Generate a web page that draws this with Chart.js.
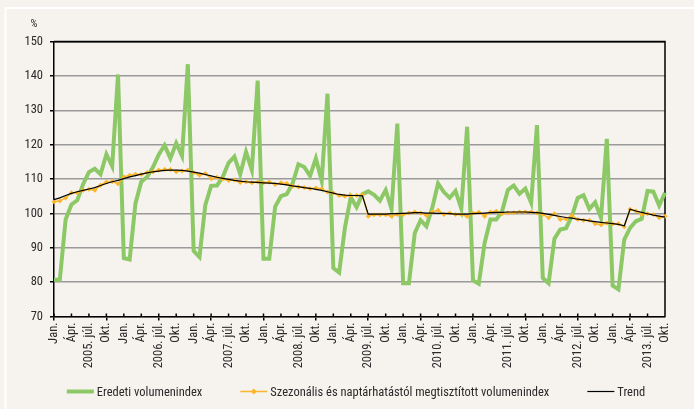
<!DOCTYPE html>
<html>
<head>
<meta charset="utf-8">
<script src="https://cdn.jsdelivr.net/npm/chart.js@4.4.1/dist/chart.umd.min.js"></script>
<style>
  html, body { margin: 0; padding: 0; background: #f6f3ef; }
</style>
</head>
<body>
<canvas id="chart" width="694" height="409"></canvas>
<script>
const years = [2005, 2006, 2007, 2008, 2009, 2010, 2011, 2012, 2013];
const monthNames = ['Jan.', 'Febr.', 'Márc.', 'Ápr.', 'Máj.', 'Jún.', 'júl.', 'Aug.', 'Szept.', 'Okt.', 'Nov.', 'Dec.'];
const lastMonth = 9; // 2013 okt.

// Eredeti volumenindex
const eredeti = [
  80.7, 80.7, 98.2, 102.6, 103.8, 108.5, 112, 113, 111.4, 117.2, 113.7, 140.4,
  87, 86.6, 102.9, 109.2, 110.6, 113.4, 117.1, 119.8, 116, 120.4, 116.7, 143.4,
  89.1, 87.3, 102.4, 108, 108.1, 110.6, 114.7, 116.5, 111.4, 117.9, 112.6, 138.6,
  86.8, 86.8, 101.9, 105, 105.6, 108.7, 114.3, 113.5, 110.9, 116, 109.5, 134.8,
  84.1, 82.8, 95.9, 104.7, 101.8, 105.6, 106.4, 105.4, 103.7, 106.8, 101.3, 126.1,
  79.7, 79.7, 94.3, 98, 96.2, 101.6, 108.7, 106.2, 104.5, 106.5, 101.4, 125.2,
  80.5, 79.5, 91.4, 98.2, 98.2, 100.6, 106.8, 108.1, 105.7, 107.2, 103.1, 125.7,
  81.2, 79.7, 92.6, 95.3, 95.7, 99.2, 104.5, 105.3, 101.3, 103.2, 98.7, 121.7,
  79, 77.9, 92.4, 95.8, 97.7, 98.4, 106.5, 106.3, 102.3, 106
];

// Szezonális és naptárhatástól megtisztított volumenindex
const szezonalis = [
  103.4, 103.6, 104.5, 106, 106, 106.7, 107, 106.7, 108.2, 109.1, 109.3, 108.6,
  110.6, 111.1, 111.4, 111.3, 111.9, 112.1, 112.6, 112.8, 112.8, 112.1, 112.3, 112.6,
  111.8, 111.1, 111.6, 110.1, 110.5, 110, 109.6, 109.7, 109, 109.2, 108.9, 109.1,
  108.9, 109.1, 108.4, 108.9, 108.7, 107.9, 107.7, 107.5, 107.2, 107.4, 107.2, 106.2,
  105.9, 105.2, 105, 105.2, 105.2, 105.4, 99.2, 99.6, 99.6, 99.6, 99.2, 99.7,
  99.6, 100.1, 100.4, 100.1, 99.4, 100.4, 100.9, 99.7, 100.1, 99.7, 99.7, 99.1,
  100.1, 100.3, 99.2, 100.4, 100.6, 99.9, 100.1, 100.2, 100.4, 100.4, 100.4, 100.1,
  99.7, 98.7, 99.9, 98.2, 98.4, 99.4, 98.2, 98, 98, 97, 96.7, 97.2,
  97, 97, 96.1, 101.2, 100.7, 99.7, 99.9, 99.7, 98.7, 99.2
];

// Trend
const trend = [
  104, 104.5, 105.2, 105.8, 106.3, 106.7, 107.1, 107.5, 108.1, 108.7, 109.2, 109.6,
  110.1, 110.6, 111, 111.4, 111.8, 112.1, 112.3, 112.5, 112.6, 112.6, 112.5, 112.3,
  112, 111.7, 111.3, 110.9, 110.5, 110.2, 109.9, 109.6, 109.4, 109.2, 109.1, 109,
  108.9, 108.8, 108.7, 108.5, 108.3, 108, 107.8, 107.5, 107.3, 107, 106.7, 106.3,
  105.9, 105.5, 105.3, 105.2, 105.2, 105.1, 99.8, 99.8, 99.8, 99.8, 99.9, 99.9,
  100, 100.1, 100.2, 100.2, 100.1, 100.1, 100, 100, 99.9, 99.8, 99.8, 99.8,
  99.9, 100, 100.1, 100.2, 100.3, 100.3, 100.4, 100.4, 100.4, 100.4, 100.3, 100.2,
  100, 99.7, 99.4, 99.1, 98.8, 98.6, 98.3, 98.1, 97.8, 97.6, 97.4, 97.2,
  97, 96.8, 96.4, 101.2, 100.7, 100.3, 99.9, 99.5, 99.2, 98.9
];

const labels = [];
years.forEach((year, yi) => {
  monthNames.forEach((m, mi) => {
    if (yi === years.length - 1 && mi > lastMonth) return;
    labels.push(mi === 6 ? year + '. ' + m : m);
  });
});

// Roboto with its condensed width stands in for Arial Narrow
const FAMILY = "Roboto, 'DejaVu Sans Condensed', sans-serif";
const STRETCH = 'condensed';
const GREEN = '#8cc866';
const ORANGE = '#fbb62c';
const BG = '#f6f3ef';
const TEXT = '#2a2a2a';

const frame = {
  id: 'frame',
  beforeDraw(chart) {
    const ctx = chart.ctx;
    ctx.save();
    ctx.fillStyle = BG;
    ctx.fillRect(0, 0, chart.width, chart.height);
    ctx.strokeStyle = '#ffffff';
    ctx.lineWidth = 2;
    ctx.beginPath();
    ctx.moveTo(5.5, chart.height);
    ctx.lineTo(5.5, 8);
    ctx.lineTo(chart.width, 8);
    ctx.stroke();
    ctx.fillStyle = TEXT;
    ctx.font = STRETCH + ' 11px ' + FAMILY;
    ctx.textAlign = 'center';
    ctx.fillText('%', 34, 27);
    ctx.restore();
  },
  beforeDatasetsDraw(chart) {
    const {ctx, chartArea: a} = chart;
    ctx.save();
    ctx.strokeStyle = '#000';
    ctx.lineWidth = 1.5;
    ctx.beginPath();
    ctx.moveTo(a.left, a.top);
    ctx.lineTo(a.right, a.top);
    ctx.lineTo(a.right, a.bottom);
    const x = chart.scales.x;
    for (let i = 0; i < labels.length; i += 3) {
      const px = x.getPixelForValue(i);
      ctx.moveTo(px, a.bottom - 3);
      ctx.lineTo(px, a.bottom);
    }
    ctx.stroke();
    ctx.restore();
  },
  afterDraw(chart) {
    // legend row under the axis labels
    const ctx = chart.ctx;
    const lineLen = 27, textGap = 3, itemGap = 38, rowY = 391.5;
    ctx.save();
    ctx.font = STRETCH + ' 12.5px ' + FAMILY;
    const items = chart.data.datasets.map(ds => ({ds, w: ctx.measureText(ds.label).width}));
    const total = items.reduce((s, it) => s + lineLen + textGap + it.w, 0) + itemGap * (items.length - 1);
    let x = 356 - total / 2;
    items.forEach(({ds, w}) => {
      ctx.strokeStyle = ds.borderColor;
      ctx.lineWidth = ds.borderWidth;
      ctx.beginPath();
      ctx.moveTo(x, rowY);
      ctx.lineTo(x + lineLen, rowY);
      ctx.stroke();
      if (ds.pointRadius) {
        ctx.fillStyle = ds.borderColor;
        Chart.helpers.drawPoint(ctx, {pointStyle: ds.pointStyle, radius: 3, borderWidth: 0, rotation: 0},
          x + lineLen / 2, rowY);
      }
      x += lineLen + textGap;
      ctx.fillStyle = TEXT;
      ctx.textBaseline = 'alphabetic';
      ctx.fillText(ds.label, x, rowY + 4.5);
      x += w + itemGap;
    });
    ctx.restore();
  }
};

const tickFont = { family: FAMILY, size: 12.5, weight: STRETCH };

const config = {
  type: 'line',
  data: {
    labels: labels,
    datasets: [
      {
        label: 'Eredeti volumenindex',
        data: eredeti,
        borderColor: GREEN,
        backgroundColor: GREEN,
        borderWidth: 4,
        pointRadius: 0,
        order: 3
      },
      {
        label: 'Szezonális és naptárhatástól megtisztított volumenindex',
        data: szezonalis,
        borderColor: ORANGE,
        backgroundColor: ORANGE,
        borderWidth: 1.5,
        pointStyle: 'rectRot',
        pointRadius: 2.5,
        pointBorderWidth: 0,
        pointBackgroundColor: ORANGE,
        order: 2
      },
      {
        label: 'Trend',
        data: trend,
        borderColor: '#000',
        backgroundColor: '#000',
        borderWidth: 1.2,
        pointRadius: 0,
        order: 1
      }
    ]
  },
  options: {
    responsive: false,
    animation: false,
    devicePixelRatio: 1,
    layout: { padding: { left: 0, right: 29, top: 41.5, bottom: 0 } },
    plugins: {
      tooltip: { enabled: false },
      legend: { display: false }
    },
    scales: {
      x: {
        afterFit: (s) => { s.height = 92.5; },
        ticks: {
          autoSkip: false,
          minRotation: 90,
          maxRotation: 90,
          padding: 2,
          color: TEXT,
          font: tickFont,
          callback: function (v, i) { return i % 3 === 0 ? this.getLabelForValue(v) : null; }
        },
        grid: {
          drawOnChartArea: false,
          tickLength: 4,
          lineWidth: 1.5,
          color: (c) => (c.index % 3 === 0 ? '#000' : 'rgba(0,0,0,0)')
        },
        border: { color: '#000', width: 1.5 }
      },
      y: {
        min: 70,
        max: 150,
        afterFit: (s) => { s.width = 54; },
        ticks: {
          stepSize: 10,
          padding: 7,
          color: TEXT,
          font: tickFont
        },
        grid: {
          color: (c) => (c.tick && c.tick.value === 150 ? '#000' : '#9a9a9a'),
          lineWidth: 1.5,
          tickLength: 4,
          tickColor: '#000'
        },
        border: { color: '#000', width: 1.5 }
      }
    }
  },
  plugins: [frame]
};

const chart = new Chart(document.getElementById('chart'), config);
</script>
</body>
</html>
